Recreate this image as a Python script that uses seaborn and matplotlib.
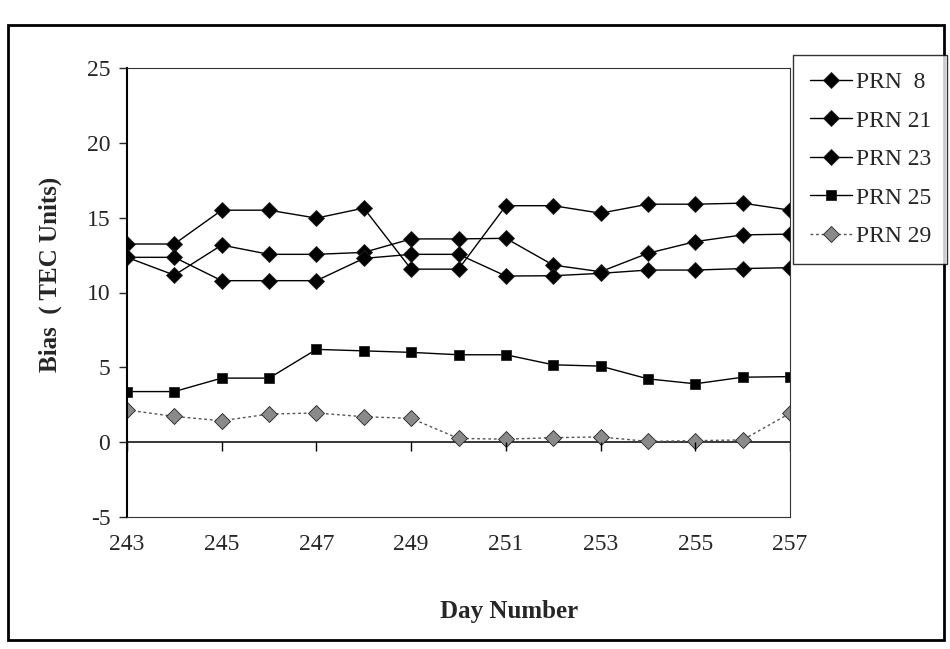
import pandas as pd
import matplotlib.pyplot as plt
import matplotlib.patches as mpatches
import seaborn as sns

days = list(range(243, 258))
prn_labels = ["PRN  8", "PRN 21", "PRN 23", "PRN 25", "PRN 29"]
prn8 = [13.24, 13.24, 15.5, 15.5, 14.97, 15.64, 11.56, 11.56, 15.8, 15.8, 15.3, 15.9, 15.9, 15.97, 15.5]
prn21 = [12.35, 11.16, 13.17, 12.55, 12.55, 12.68, 13.58, 13.58, 13.62, 11.83, 11.39, 12.62, 13.4, 13.85, 13.9]
prn23 = [12.35, 12.35, 10.79, 10.79, 10.79, 12.28, 12.55, 12.55, 11.1, 11.12, 11.28, 11.5, 11.5, 11.6, 11.66]
prn25 = [3.38, 3.38, 4.28, 4.28, 6.2, 6.1, 6.0, 5.84, 5.84, 5.17, 5.08, 4.23, 3.9, 4.34, 4.38]
prn29 = [2.15, 1.72, 1.43, 1.88, 1.95, 1.7, 1.59, 0.25, 0.2, 0.3, 0.35, 0.05, 0.1, 0.15, 1.93]
yticks = [-5, 0, 5, 10, 15, 20, 25]
xticks = [243, 245, 247, 249, 251, 253, 255, 257]

series = [prn8, prn21, prn23, prn25, prn29]
rows = []
for lab, vals in zip(prn_labels, series):
    for d, v in zip(days, vals):
        rows.append({"day": d, "bias": v, "prn": lab})
df = pd.DataFrame(rows)

sns.set_style("white")
plt.rcParams['font.family'] = ['Liberation Serif', 'DejaVu Serif']
plt.rcParams['axes.unicode_minus'] = False

fig = plt.figure(figsize=(9.5, 6.49), dpi=100)
ax = fig.add_axes([127 / 950, 1 - 517 / 649, 663 / 950, 449 / 649])

palette = {l: "black" for l in prn_labels}
palette["PRN 29"] = "#8a8a8a"
markers = {"PRN  8": "D", "PRN 21": "D", "PRN 23": "D", "PRN 25": "s", "PRN 29": "D"}
dashes = {"PRN  8": "", "PRN 21": "", "PRN 23": "", "PRN 25": "", "PRN 29": (2, 2)}

sns.lineplot(data=df, x="day", y="bias", hue="prn", style="prn",
             palette=palette, markers=markers, dashes=dashes,
             markersize=8, markeredgecolor="#222222", markeredgewidth=0.6,
             linewidth=1.0, legend=False, ax=ax)

handles = list(ax.lines[:5])
for h in handles[:4]:
    h.set_color("black")
handles[3].set_markersize(7)
handles[4].set_color("#555555")
handles[4].set_markerfacecolor("#8a8a8a")

ax.set_xlim(243, 257)
ax.set_ylim(-5, 25)
ax.set_yticks(yticks)
ax.set_xticks(xticks)
ax.tick_params(axis="y", direction="out", length=6, width=1, pad=6, labelsize=17, left=True)
ax.tick_params(axis="x", length=0, pad=12, labelsize=17)

ax.axhline(0, color="black", lw=1.1, zorder=1)
ax.vlines(xticks, -0.6, 0, color="black", lw=1.0)

for side in ["top", "right", "bottom"]:
    ax.spines[side].set_linewidth(0.8)
    ax.spines[side].set_color("#333333")
ax.spines["left"].set_linewidth(1.5)
ax.spines["left"].set_color("black")

ax.set_xlabel("Day Number", fontsize=18, fontweight="bold")
ax.xaxis.set_label_coords(0.576, -0.185)
ax.set_ylabel("Bias  ( TEC Units)", fontsize=18, fontweight="bold")
ax.yaxis.set_label_coords(-0.098, 0.54)

leg = fig.legend(handles=handles, labels=prn_labels, loc="upper left",
                 bbox_to_anchor=(793 / 950, 1 - 55 / 649), fontsize=17,
                 frameon=True, fancybox=False, edgecolor="black",
                 handlelength=1.8, handletextpad=0.15, labelspacing=0.72,
                 borderpad=0.7, borderaxespad=0)
leg.get_frame().set_linewidth(1.0)

fig.patches.append(mpatches.Rectangle((8 / 950, 1 - 640 / 649), 936 / 950, 615 / 649,
                                      transform=fig.transFigure, fill=False,
                                      edgecolor="black", linewidth=2))

fig.savefig("out.png", dpi=100)
